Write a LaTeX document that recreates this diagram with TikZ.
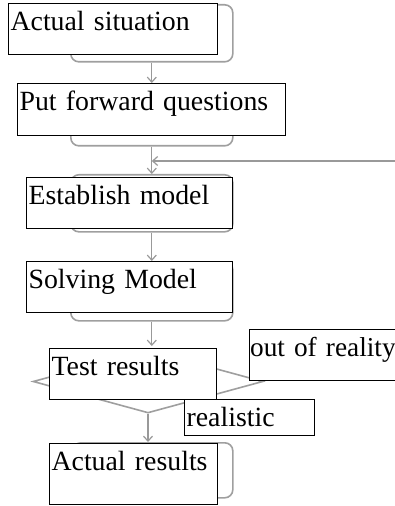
\documentclass[tikz,border=0pt]{standalone}
\usepackage{fontspec}
\setmainfont{Liberation Serif}
\usepackage{tikz}
\usetikzlibrary{shapes,arrows,arrows.meta,positioning}

\begin{document}
\begin{tikzpicture}
    [x=1bp, y=-1bp, font=\fontsize{27.8bp}{30bp}\selectfont,
     back/.style={draw=gray!75, line width=1.6bp, rectangle, rounded corners=8bp, inner sep=0pt, anchor=north west},
     backdia/.style={draw=gray!75, line width=1.6bp, diamond, inner sep=0pt},
     txtbox/.style={draw=black, fill=white, line width=1.2bp, rectangle, anchor=north west, align=left, inner xsep=2bp, inner ysep=3bp, text height=24bp},
     garrow/.style={draw=gray!80, line width=1.2bp, -{Straight Barb[length=5bp,width=9bp]}}]
    \useasboundingbox (0,0) rectangle (394,506);

    \node[back, minimum width=162bp, minimum height=57bp] (g1) at (70,4) {};
    \node[back, minimum width=162bp, minimum height=57bp] (g2) at (70,88) {};
    \node[back, minimum width=162bp, minimum height=57bp] (g3) at (70,174) {};
    \node[back, minimum width=162bp, minimum height=59bp] (g4) at (70,261) {};
    \node[backdia, minimum width=230bp, minimum height=63bp] (dia) at (148,381.5) {};
    \node[back, minimum width=160bp, minimum height=55bp] (g6) at (72,442) {};

    \coordinate (fb) at (396,161);
    \draw[garrow] (g1.south) -- (g1.south |- 0,83);
    \draw[garrow] (g2.south) -- (g3.north);
    \draw[garrow] (g3.south) -- (g4.north);
    \draw[garrow] (g4.south) -- (g4.south |- 0,346);
    \draw[garrow] (dia.south) -- (dia.south |- g6.north);
    \draw[garrow] (fb) -- (g2.south |- fb);

    \node[txtbox, text width=205bp, text depth=21bp] (b1) at (8,3) {Actual situation};
    \node[txtbox, text width=264bp, text depth=22bp] (b2) at (17,83) {Put forward questions};
    \node[txtbox, text width=202bp, text depth=21bp] (b3) at (26,177) {Establish model};
    \node[txtbox, text width=202bp, text depth=21bp] (b4) at (26,261) {Solving Model};
    \node[txtbox, text width=163bp, text depth=21bp] (b5) at (49,348) {Test results};
    \node[txtbox, inner xsep=0.5bp, font=\fontsize{27.3bp}{30bp}\selectfont, text width=145bp, text depth=21bp] (b6) at (249,329) {\mbox{out of reality}};
    \node[txtbox, text width=126bp, text depth=6bp] (b7) at (184,399) {realistic};
    \node[txtbox, text width=164bp, text depth=31bp] (b8) at (49,443) {Actual results};
\end{tikzpicture}
\end{document}
